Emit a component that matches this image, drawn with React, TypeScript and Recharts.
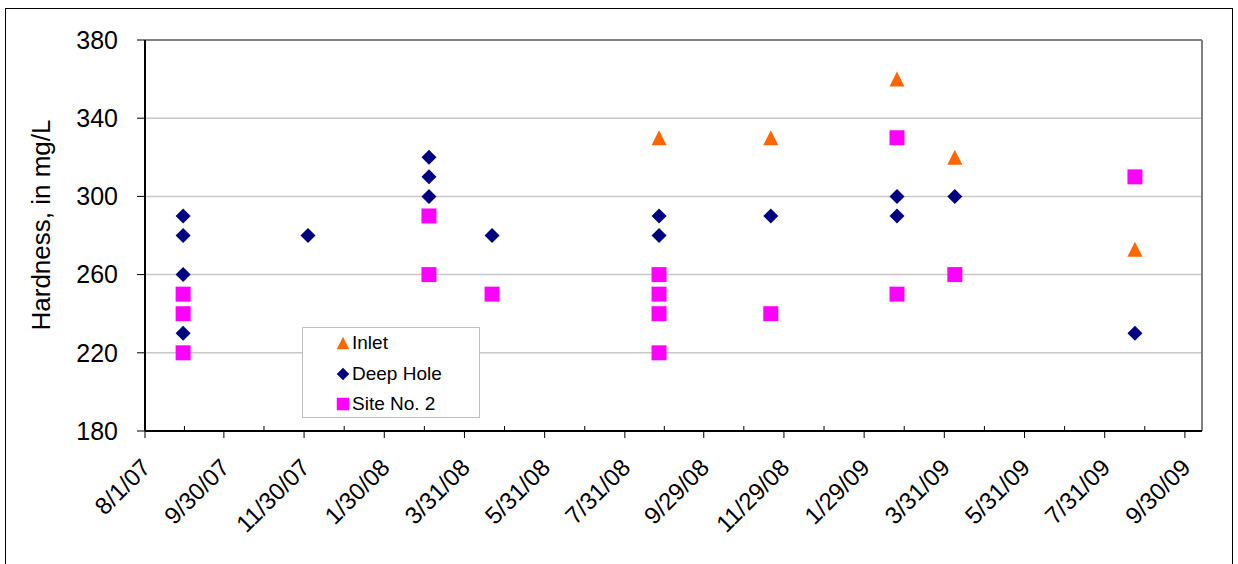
import React from "react";
import {
  ScatterChart,
  Scatter,
  XAxis,
  YAxis,
  CartesianGrid,
  ReferenceLine,
  Legend,
} from "recharts";

// sample dates (m/d/yy) and hardness values, mg/L
const inletDates = ["8/26/08", "11/19/08", "2/23/09", "4/8/09", "8/23/09"];
const inletValues = [330, 330, 360, 320, 273];

const deepHoleDates = [
  "8/30/07", "8/30/07", "8/30/07", "8/30/07",
  "12/3/07",
  "3/4/08", "3/4/08", "3/4/08",
  "4/21/08",
  "8/26/08", "8/26/08",
  "11/19/08",
  "2/23/09", "2/23/09",
  "4/8/09",
  "8/23/09",
];
const deepHoleValues = [290, 280, 260, 230, 280, 320, 310, 300, 280, 290, 280, 290, 300, 290, 300, 230];

const siteDates = [
  "8/30/07", "8/30/07", "8/30/07",
  "3/4/08", "3/4/08",
  "4/21/08",
  "8/26/08", "8/26/08", "8/26/08", "8/26/08",
  "11/19/08",
  "2/23/09", "2/23/09",
  "4/8/09",
  "8/23/09",
];
const siteValues = [250, 240, 220, 290, 260, 250, 260, 250, 240, 220, 240, 330, 250, 260, 310];

const tickLabels = [
  "8/1/07", "9/30/07", "11/30/07", "1/30/08", "3/31/08", "5/31/08", "7/31/08",
  "9/29/08", "11/29/08", "1/29/09", "3/31/09", "5/31/09", "7/31/09", "9/30/09",
];
const axisStart = "8/1/07";
const axisEnd = "10/13/09";
const yTicks = [180, 220, 260, 300, 340, 380];

const FONT = 'Arial, "Liberation Sans", sans-serif';

// days since epoch for a m/d/yy string
const toDay = (s: string) => {
  const [m, d, y] = s.split("/").map(Number);
  return Date.UTC(2000 + y, m - 1, d) / 86400000;
};

const toPoints = (dates: string[], values: number[]) =>
  dates.map((d, i) => ({ x: toDay(d), y: values[i] }));

const majorDays = tickLabels.map(toDay);
const minorDays = majorDays.slice(1).map((d, i) => (d + majorDays[i]) / 2);
const allTicks = [...majorDays, ...minorDays].sort((a, b) => a - b);

type Kind = "triangle" | "diamond" | "square";

const series = [
  { name: "Inlet", color: "#FF6600", kind: "triangle" as Kind, data: toPoints(inletDates, inletValues) },
  { name: "Deep Hole", color: "#000080", kind: "diamond" as Kind, data: toPoints(deepHoleDates, deepHoleValues) },
  { name: "Site No. 2", color: "#FF00FF", kind: "square" as Kind, data: toPoints(siteDates, siteValues) },
];

function markerPath(kind: Kind, cx: number, cy: number, s: number) {
  const h = s / 2;
  if (kind === "triangle") return `M${cx},${cy - h}L${cx + h},${cy + h}L${cx - h},${cy + h}Z`;
  if (kind === "diamond") return `M${cx},${cy - h}L${cx + h},${cy}L${cx},${cy + h}L${cx - h},${cy}Z`;
  return `M${cx - h},${cy - h}H${cx + h}V${cy + h}H${cx - h}Z`;
}

const makeShape = (kind: Kind, color: string) => (props: any) => (
  <path d={markerPath(kind, props.cx, props.cy, 15)} fill={color} />
);

const DateTick = (props: any) => {
  const { x, y, payload } = props;
  const idx = majorDays.indexOf(payload.value);
  if (idx < 0) {
    return <line x1={x} x2={x} y1={y} y2={y - 5} stroke="#000" strokeWidth={1} />;
  }
  const tx = x + 1;
  const ty = y + 32;
  return (
    <g>
      <line x1={x} x2={x} y1={y} y2={y + 7} stroke="#000" strokeWidth={1} />
      <text
        x={tx}
        y={ty}
        transform={`rotate(-45 ${tx} ${ty})`}
        textAnchor="end"
        dominantBaseline="central"
        fontSize={24}
        fontFamily={FONT}
        fill="#000"
      >
        {tickLabels[idx]}
      </text>
    </g>
  );
};

const LegendBox = () => (
  <div
    style={{
      width: 178,
      height: 91,
      boxSizing: "border-box",
      border: "1px solid #c0c0c0",
      background: "#fff",
      paddingTop: 0,
      fontFamily: FONT,
      fontSize: 19,
      color: "#000",
    }}
  >
    {series.map((s) => (
      <div key={s.name} style={{ height: 30.5, display: "flex", alignItems: "center" }}>
        <svg width={14} height={14} style={{ marginLeft: 33, marginRight: 2 }}>
          <path d={markerPath(s.kind, 7, 7, 12.5)} fill={s.color} />
        </svg>
        <span>{s.name}</span>
      </div>
    ))}
  </div>
);

export default function App() {
  return (
    <div style={{ position: "absolute", left: 0, top: 0, width: 1238, height: 564, overflow: "hidden", background: "#fff" }}>
      <div
        style={{
          position: "absolute",
          left: 5,
          top: 8,
          width: 1228,
          height: 600,
          boxSizing: "border-box",
          border: "1px solid #000",
        }}
      />
      <div style={{ position: "absolute", left: 0, top: 0 }}>
        <ScatterChart width={1238} height={564} margin={{ top: 40, right: 36, bottom: 13, left: 0 }}>
          <CartesianGrid horizontal vertical={false} stroke="#c8c8c8" strokeWidth={1.5} />
          <XAxis
            type="number"
            dataKey="x"
            domain={[toDay(axisStart), toDay(axisEnd)]}
            ticks={allTicks}
            interval={0}
            tick={<DateTick />}
            tickLine={false}
            tickSize={0}
            tickMargin={0}
            height={120}
            axisLine={{ stroke: "#000", strokeWidth: 2 }}
            allowDataOverflow
          />
          <YAxis
            type="number"
            dataKey="y"
            domain={[180, 380]}
            ticks={yTicks}
            interval={0}
            width={145}
            tickSize={8}
            tickMargin={19}
            tickLine={{ stroke: "#000" }}
            axisLine={{ stroke: "#000", strokeWidth: 2 }}
            tick={{ fontSize: 25, fill: "#000", fontFamily: FONT }}
            label={{
              content: () => (
                <text
                  x={50}
                  y={225}
                  transform="rotate(-90 50 225)"
                  textAnchor="middle"
                  fontSize={26}
                  fontFamily={FONT}
                  fill="#000"
                >
                  Hardness, in mg/L
                </text>
              ),
            }}
          />
          <ReferenceLine y={380} stroke="#808080" strokeWidth={2} />
          <ReferenceLine x={toDay(axisEnd)} stroke="#808080" strokeWidth={2} />
          {series.map((s) => (
            <Scatter
              key={s.name}
              name={s.name}
              data={s.data}
              fill={s.color}
              shape={makeShape(s.kind, s.color)}
              isAnimationActive={false}
            />
          ))}
          <Legend
            layout="vertical"
            align="center"
            verticalAlign="middle"
            content={<LegendBox />}
            wrapperStyle={{ left: 302, top: 327, width: 178, height: 91 }}
          />
        </ScatterChart>
      </div>
    </div>
  );
}
